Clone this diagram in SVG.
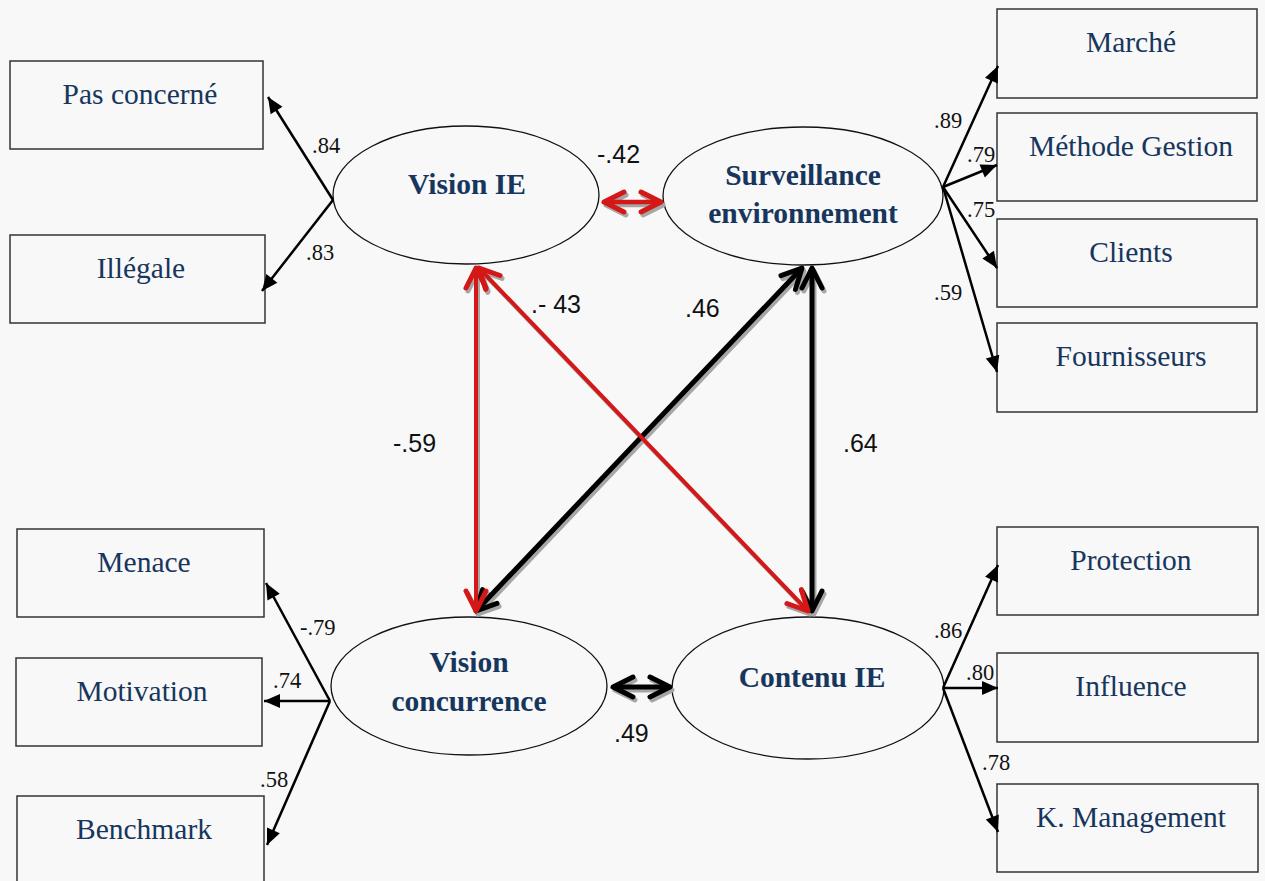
<svg xmlns="http://www.w3.org/2000/svg" width="1265" height="881" viewBox="0 0 1265 881">
<style>
.bg{fill:#f8f8f8}
.box{fill:#f8f8f8;stroke:#333;stroke-width:1.5}
.ell{fill:#f8f8f8;stroke:#111;stroke-width:1.3}
.bt{font-family:"Liberation Serif","Times New Roman",serif;font-size:29.5px;fill:#17365d;text-anchor:middle}
.et{font-family:"Liberation Serif","Times New Roman",serif;font-size:29.5px;font-weight:bold;fill:#17365d;text-anchor:middle}
.ld{stroke:#000;stroke-width:2.5;fill:none;marker-end:url(#tri)}
.ll{font-family:"Liberation Serif","Times New Roman",serif;font-size:22.5px;fill:#111}
.cl{font-family:"Liberation Sans",Arial,sans-serif;font-size:25px;fill:#111}
.red{stroke:#d41717;fill:none;marker-start:url(#chr);marker-end:url(#chr)}
.blk{stroke:#000;fill:none;marker-start:url(#chb);marker-end:url(#chb)}
.sh{stroke:#a6a6a6;fill:none;marker-start:url(#chs);marker-end:url(#chs)}
</style>
<defs>
<marker id="tri" markerUnits="userSpaceOnUse" markerWidth="20" markerHeight="16" viewBox="-17 -8 18 16" refX="0" refY="0" orient="auto">
<path d="M0,0 L-16,-7 L-16,7 Z" fill="#000"/>
</marker>
<marker id="chr" markerUnits="userSpaceOnUse" markerWidth="30" markerHeight="30" viewBox="-26 -15 30 30" refX="0" refY="0" orient="auto-start-reverse">
<path d="M-20,-10 L0,0 L-20,10" fill="none" stroke="#d41717" stroke-width="5" stroke-linecap="round" stroke-linejoin="round"/>
</marker>
<marker id="chb" markerUnits="userSpaceOnUse" markerWidth="30" markerHeight="30" viewBox="-26 -15 30 30" refX="0" refY="0" orient="auto-start-reverse">
<path d="M-20,-10 L0,0 L-20,10" fill="none" stroke="#000" stroke-width="5" stroke-linecap="round" stroke-linejoin="round"/>
</marker>
<marker id="chs" markerUnits="userSpaceOnUse" markerWidth="30" markerHeight="30" viewBox="-26 -15 30 30" refX="0" refY="0" orient="auto-start-reverse">
<path d="M-20,-10 L0,0 L-20,10" fill="none" stroke="#a6a6a6" stroke-width="5" stroke-linecap="round" stroke-linejoin="round"/>
</marker>
</defs>
<rect class="bg" x="0" y="0" width="1265" height="881"/>

<g id="box-pas-concerne"><rect class="box" x="10" y="61" width="253" height="88"/><text class="bt" x="140" y="104">Pas concerné</text></g>
<g id="box-illegale"><rect class="box" x="10" y="235" width="255" height="88"/><text class="bt" x="141" y="278">Illégale</text></g>
<g id="box-marche"><rect class="box" x="997" y="9" width="260" height="89"/><text class="bt" x="1131" y="52">Marché</text></g>
<g id="box-methode"><rect class="box" x="997" y="113" width="260" height="88"/><text class="bt" x="1131" y="156">Méthode Gestion</text></g>
<g id="box-clients"><rect class="box" x="997" y="219" width="260" height="88"/><text class="bt" x="1131" y="262">Clients</text></g>
<g id="box-fournisseurs"><rect class="box" x="997" y="323" width="260" height="89"/><text class="bt" x="1131" y="366">Fournisseurs</text></g>
<g id="box-menace"><rect class="box" x="17" y="529" width="247" height="88"/><text class="bt" x="144" y="572">Menace</text></g>
<g id="box-motivation"><rect class="box" x="16" y="658" width="246" height="88"/><text class="bt" x="142" y="701">Motivation</text></g>
<g id="box-benchmark"><rect class="box" x="17" y="796" width="247" height="90"/><text class="bt" x="144" y="839">Benchmark</text></g>
<g id="box-protection"><rect class="box" x="997" y="527" width="261" height="88"/><text class="bt" x="1131" y="570">Protection</text></g>
<g id="box-influence"><rect class="box" x="997" y="653" width="261" height="89"/><text class="bt" x="1131" y="696">Influence</text></g>
<g id="box-kmanagement"><rect class="box" x="997" y="784" width="261" height="88"/><text class="bt" x="1131" y="827">K. Management</text></g>

<g id="node-vision-ie"><ellipse class="ell" cx="466" cy="195" rx="133" ry="69"/><text class="et" x="467" y="194">Vision IE</text></g>
<g id="node-surveillance"><ellipse class="ell" cx="803" cy="196" rx="140" ry="69"/><text class="et" x="803" y="185">Surveillance</text><text class="et" x="803" y="223">environnement</text></g>
<g id="node-vision-concurrence"><ellipse class="ell" cx="469" cy="686" rx="138" ry="69"/><text class="et" x="469" y="672">Vision</text><text class="et" x="469" y="711">concurrence</text></g>
<g id="node-contenu-ie"><ellipse class="ell" cx="808" cy="688" rx="136" ry="71"/><text class="et" x="812" y="687">Contenu IE</text></g>

<g id="connectors">
<line class="ld" x1="333" y1="200" x2="268" y2="97"/>
<line class="ld" x1="333" y1="200" x2="262" y2="291"/>
<line class="ld" x1="943" y1="187" x2="998" y2="66"/>
<line class="ld" x1="943" y1="187" x2="997" y2="165"/>
<line class="ld" x1="943" y1="187" x2="997" y2="268"/>
<line class="ld" x1="943" y1="187" x2="997" y2="372"/>
<line class="ld" x1="330" y1="701" x2="266" y2="583"/>
<line class="ld" x1="330" y1="701" x2="264" y2="701"/>
<line class="ld" x1="330" y1="701" x2="267" y2="845"/>
<line class="ld" x1="943" y1="688" x2="998" y2="565"/>
<line class="ld" x1="943" y1="688" x2="998" y2="688"/>
<line class="ld" x1="943" y1="688" x2="998" y2="832"/>

<g id="shadows" transform="translate(2,3)">
<line class="sh" stroke-width="4.5" x1="604" y1="202" x2="661" y2="202"/>
<line class="sh" stroke-width="4" x1="476" y1="268" x2="476" y2="611"/>
<line class="sh" stroke-width="4" x1="479" y1="268" x2="808" y2="611"/>
<line class="sh" stroke-width="5" x1="802" y1="268" x2="476" y2="611"/>
<line class="sh" stroke-width="5" x1="812" y1="268" x2="812" y2="611"/>
<line class="sh" stroke-width="5" x1="613" y1="687" x2="670" y2="687"/>
</g>
<line class="red" stroke-width="4.5" x1="604" y1="202" x2="661" y2="202"/>
<line class="blk" stroke-width="5" x1="802" y1="268" x2="476" y2="611"/>
<line class="blk" stroke-width="5" x1="812" y1="268" x2="812" y2="611"/>
<line class="red" stroke-width="4" x1="476" y1="268" x2="476" y2="611"/>
<line class="red" stroke-width="4" x1="479" y1="268" x2="808" y2="611"/>
<line class="blk" stroke-width="5" x1="613" y1="687" x2="670" y2="687"/>
</g>

<g id="labels">
<text class="ll" x="312" y="153">.84</text>
<text class="ll" x="306" y="260">.83</text>
<text class="ll" x="934" y="128">.89</text>
<text class="ll" x="967" y="162">.79</text>
<text class="ll" x="967" y="217">.75</text>
<text class="ll" x="934" y="300">.59</text>
<text class="ll" x="300" y="635">-.79</text>
<text class="ll" x="273" y="688">.74</text>
<text class="ll" x="260" y="787">.58</text>
<text class="ll" x="934" y="638">.86</text>
<text class="ll" x="966" y="680">.80</text>
<text class="ll" x="982" y="770">.78</text>
<text class="cl" x="597" y="163">-.42</text>
<text class="cl" x="531" y="313">.- 43</text>
<text class="cl" x="685" y="317">.46</text>
<text class="cl" x="393" y="452">-.59</text>
<text class="cl" x="843" y="452">.64</text>
<text class="cl" x="614" y="742">.49</text>
</g>
</svg>
